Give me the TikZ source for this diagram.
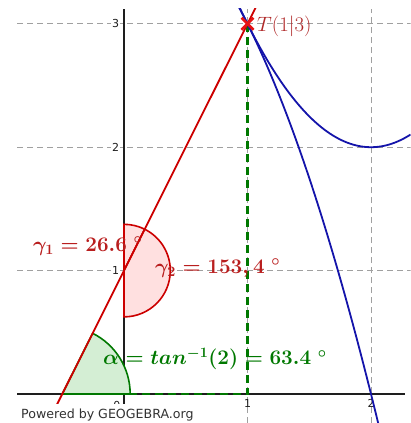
\documentclass[tikz,border=0pt]{standalone}
\usepackage{fontspec}
\newfontfamily\ggbsans{DejaVu Sans}
\definecolor{ggbred}{RGB}{204,0,0}
\definecolor{ggbredtext}{RGB}{185,30,30}
\definecolor{ggbgreen}{RGB}{0,120,0}
\definecolor{ggbgreenfill}{RGB}{212,238,212}
\definecolor{ggbpink}{RGB}{255,224,224}
\definecolor{ggbblue}{RGB}{20,20,170}
\definecolor{ggbgrid}{RGB}{160,160,160}
\definecolor{ggbaxis}{RGB}{30,30,30}
\definecolor{ggbmark}{RGB}{230,20,20}
\definecolor{ggbT}{RGB}{175,40,40}
\definecolor{ggbtext}{RGB}{50,50,50}
\begin{document}
\begin{tikzpicture}[x=123.5pt,y=123.4pt,
  gridline/.style={ggbgrid, line width=0.9pt, dash pattern=on 6pt off 4pt},
  axisline/.style={ggbaxis, line width=1.6pt},
  curve/.style={ggbblue, line width=1.8pt},
  redline/.style={ggbred, line width=1.8pt},
  greendash/.style={ggbgreen, line width=2.2pt, dash pattern=on 8pt off 5pt},
  anglegreen/.style={draw=ggbgreen, fill=ggbgreenfill, line width=1.6pt},
  anglered/.style={draw=ggbred, fill=ggbpink, line width=1.6pt},
  marker/.style={ggbmark, line width=2.6pt},
  ticklabel/.style={font=\ggbsans\fontsize{11}{13}\selectfont, text=ggbaxis, inner sep=1pt, fill=white},
  biglabel/.style={inner sep=0pt, font=\fontsize{19.5}{23}\selectfont\boldmath},
]
\useasboundingbox (-1.00405,-0.23501) rectangle (2.31579,3.19287);
\coordinate (O) at (0,0);
\coordinate (X1) at (1,0);
\coordinate (T) at (1,3);
\coordinate (A) at (-0.5,0);
\coordinate (C) at (0,1);
\begin{scope}
\clip (-0.866,-0.236) rectangle (2.32,3.12);
% grid
\foreach \y in {1,2,3} \draw[gridline] (-0.866,\y) -- (2.32,\y);
\foreach \x in {1,2} \draw[gridline] (\x,-0.236) -- (\x,3.12);
% tick labels
\node[ticklabel, anchor=east] (ty1) at (-0.03,1) {1};
\node[ticklabel, anchor=east] (ty2) at (-0.03,2) {2};
\node[ticklabel, anchor=east] (ty3) at (-0.03,3) {3};
\node[ticklabel, anchor=north, fill=none] (tx1) at (1,-0.035) {1};
\node[ticklabel, anchor=north, fill=none] (tx2) at (2,-0.035) {2};
\node[ticklabel, anchor=north east, fill=none] (tx0) at (-0.02,-0.05) {0};
% axes
\draw[axisline] (-0.866,0) -- (2.275,0);
\draw[axisline] (0,-0.236) -- (0,3.12);
% angle sectors
\draw[anglegreen] (A) -- ++(0:0.55) arc[start angle=0, end angle=63.435, radius=0.55] -- cycle;
\draw[anglered] (C) -- ++(63.435:0.375) arc[start angle=63.435, end angle=90, radius=0.375] -- cycle;
\draw[anglered] (C) -- ++(-90:0.375) arc[start angle=-90, end angle=63.435, radius=0.375] -- cycle;
% green dashed helpers
\draw[greendash] (T) -- (X1) -- (O);
% red line
\draw[redline] (-0.62,-0.24) -- (1.07,3.14);
% blue curves
\draw[curve] plot[domain=0.93:2.32, samples=80, smooth] (\x, {(\x-2)^2+2});
\draw[curve] plot[domain=0.93:2.08, samples=60, smooth] (\x, {3-2*(\x-1)-(\x-1)^2});
\end{scope}
% point T
\draw[marker] (T) ++(-6pt,-6pt) -- ++(12pt,12pt) (T) ++(-6pt,6pt) -- ++(12pt,-12pt);
\node[anchor=base west, inner sep=0pt, text=ggbT, font=\fontsize{22}{25}\selectfont] (tlab) at (1.077,2.94) {$T(1|3)$};
% angle labels
\node[biglabel, anchor=base west, text=ggbredtext] (g1) at (-0.737,1.155) {$\gamma_1 = 26.6\;^{\circ}$};
\node[biglabel, anchor=base west, text=ggbredtext] (g2) at (0.251,0.9765) {$\gamma_2 = 153,4\;^{\circ}$};
\node[biglabel, anchor=base west, text=ggbgreen] (al) at (-0.17,0.235) {$\alpha = tan^{-1}(2) = 63.4\;^{\circ}$};
% footer
\fill[white] (-0.883,-0.236) rectangle (0.615,-0.08);
\node[anchor=base west, inner sep=0pt, text=ggbtext, font=\ggbsans\fontsize{12.6}{14}\selectfont] (pw) at (-0.834,-0.1945) {Powered by GEOGEBRA.org};
\end{tikzpicture}
\end{document}
